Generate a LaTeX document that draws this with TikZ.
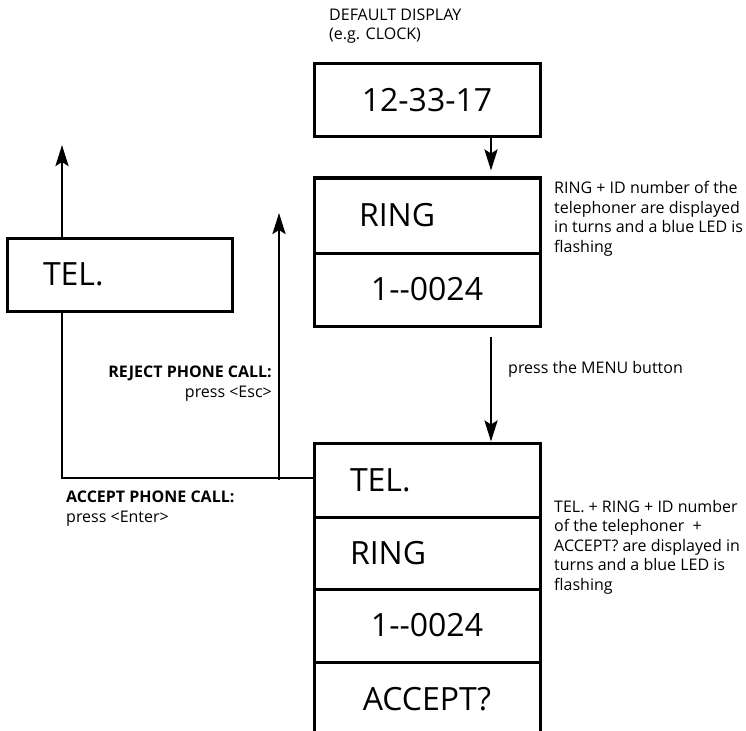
\documentclass[tikz,border=0pt]{standalone}
\usepackage{fontspec}
\setmainfont{Open Sans}
\usetikzlibrary{arrows.meta}

\newcommand{\dispfont}{\fontsize{32}{38}\selectfont}
\newcommand{\notefont}{\fontsize{16}{19.5}\selectfont}

\tikzset{
  disp/.style={draw, line width=3pt, minimum width=226pt, inner sep=0pt, font=\dispfont},
  lefttext/.style={text width=154pt, align=left, inner xsep=36pt},
  note/.style={inner sep=0pt, font=\notefont},
  flow/.style={line width=2.8pt, -{Stealth[length=21pt, width=13pt, inset=4pt]}},
  link/.style={line width=2.8pt}
}

\begin{document}
\begin{tikzpicture}[x=1pt, y=-1pt]
\useasboundingbox (0,0) rectangle (746,730);

% last line baselines
\node[note, anchor=base west, align=left] (head) at (329,40) {DEFAULT DISPLAY\\(e.g. CLOCK)};
\node[disp, minimum height=73pt] (clock) at (427,100) {12-33-17};

\node[disp, lefttext, minimum height=75pt] (ring) at (427,215.5) {\hspace*{9pt}RING};
\node[disp, minimum height=73pt] (id) at (427,289.5) {1-{}-0024};
\node[note, anchor=base west, align=left] (ringnote) at (554,252)
  {RING + ID number of the\\telephoner are displayed\\in turns and a blue LED is\\flashing};

\node[note, anchor=base west] (menu) at (508,373) {press the MENU button};

\node[disp, lefttext, minimum height=74pt] (teltop) at (427,480) {TEL.};
\node[disp, lefttext, minimum height=72pt] (ringb) at (427,553) {RING};
\node[disp, minimum height=73pt] (idb) at (427,625.5) {1-{}-0024};
\node[disp, minimum height=75pt] (accept) at (427,699.5) {ACCEPT?};
\node[note, anchor=base west, align=left] (telnote) at (554,590)
  {TEL. + RING + ID number\\of the telephoner~~+\\ACCEPT? are displayed in\\turns and a blue LED is\\flashing};

\node[disp, lefttext, minimum width=225pt, minimum height=73pt, text width=153pt, inner xsep=35pt] (tel) at (119.5,274.5) {TEL.};

\node[note, anchor=base east, align=right] (reject) at (272,397)
  {\textbf{REJECT PHONE CALL:}\\press <Esc>};
\node[note, anchor=base west, align=left] (accepttxt) at (66,522)
  {\textbf{ACCEPT PHONE CALL:}\\press <Enter>};

\coordinate (telup) at (62,145);
\coordinate (rejup) at (279,213);

\draw[flow, shorten >=6pt] ([xshift=64pt]clock.south) -- ([xshift=64pt]ring.north);
\draw[flow, shorten <=9pt] ([xshift=64pt]id.south) -- ([xshift=64pt]teltop.north);
\draw[link] ([yshift=2pt]teltop.west) -| (telup |- tel.south);
\draw[flow] (telup |- tel.north) -- (telup);
\draw[flow] (rejup |- teltop.west) -- (rejup);
\end{tikzpicture}
\end{document}
